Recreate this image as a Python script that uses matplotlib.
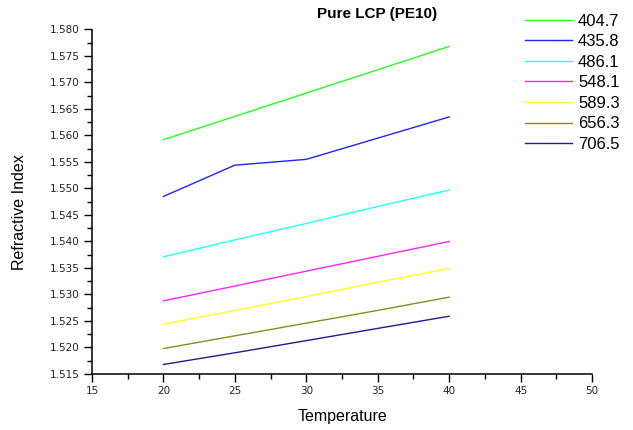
import matplotlib
matplotlib.use("Agg")
import matplotlib.pyplot as plt
from matplotlib.ticker import MultipleLocator, FormatStrFormatter

plt.rcParams['font.family'] = ['Liberation Sans', 'DejaVu Sans']

temperature = [20, 25, 30, 35, 40]
wavelengths = ["404.7", "435.8", "486.1", "548.1", "589.3", "656.3", "706.5"]
n_404_7 = [1.5592, 1.5636, 1.5680, 1.5724, 1.5768]
n_435_8 = [1.5485, 1.5544, 1.5555, 1.5595, 1.5635]
n_486_1 = [1.5371, 1.5403, 1.5434, 1.5466, 1.5497]
n_548_1 = [1.5288, 1.5316, 1.5344, 1.5372, 1.5400]
n_589_3 = [1.5244, 1.5270, 1.5296, 1.5323, 1.5349]
n_656_3 = [1.5198, 1.5222, 1.5246, 1.5270, 1.5295]
n_706_5 = [1.5168, 1.5190, 1.5213, 1.5236, 1.5259]
series = [n_404_7, n_435_8, n_486_1, n_548_1, n_589_3, n_656_3, n_706_5]
colors = ["#22ff22", "#2222ff", "#22ffff", "#ff22ff", "#ffff22", "#8a8a1e", "#1e1e8a"]

fig = plt.figure(figsize=(6.33, 4.30), dpi=100)
ax = fig.add_axes([92/633, 1-374/430, 500/633, 344.5/430])

handles = []
for vals, c, lab in zip(series, colors, wavelengths):
    h, = ax.plot(temperature, vals, color=c, lw=1.0, label=lab)
    handles.append(h)

ax.set_xlim(15, 50)
ax.set_ylim(1.515, 1.580)
ax.xaxis.set_major_locator(MultipleLocator(5))
ax.xaxis.set_minor_locator(MultipleLocator(2.5))
ax.yaxis.set_major_locator(MultipleLocator(0.005))
ax.yaxis.set_minor_locator(MultipleLocator(0.0025))
ax.yaxis.set_major_formatter(FormatStrFormatter('%.3f'))

for s in ['top', 'right']:
    ax.spines[s].set_visible(False)
for s in ['left', 'bottom']:
    ax.spines[s].set_linewidth(1.1)

ax.tick_params(which='major', direction='out', length=6, width=1.0, labelsize=7.5, colors='black', pad=3)
ax.tick_params(which='minor', direction='out', length=3.5, width=1.0)
for lbl in ax.get_xticklabels() + ax.get_yticklabels():
    lbl.set_color('#222222')
    lbl.set_fontfamily('DejaVu Sans')

fig.text(20/633, 1-212/430, "Refractive Index", rotation=90, ha='center', va='center', fontsize=11.5)
fig.text(342/633, 1-416/430, "Temperature", ha='center', va='center', fontsize=11.5)
fig.text(377/633, 1-14/430, "Pure LCP (PE10)", ha='center', va='center', fontsize=11, fontweight='bold')

fig.legend(handles=handles, loc='upper left', bbox_to_anchor=(525/633, 1-13.5/430),
           frameon=False, fontsize=12, handlelength=2.82, handletextpad=0.36,
           labelspacing=0.335, borderaxespad=0, borderpad=0)

fig.savefig("out.png", dpi=100)
